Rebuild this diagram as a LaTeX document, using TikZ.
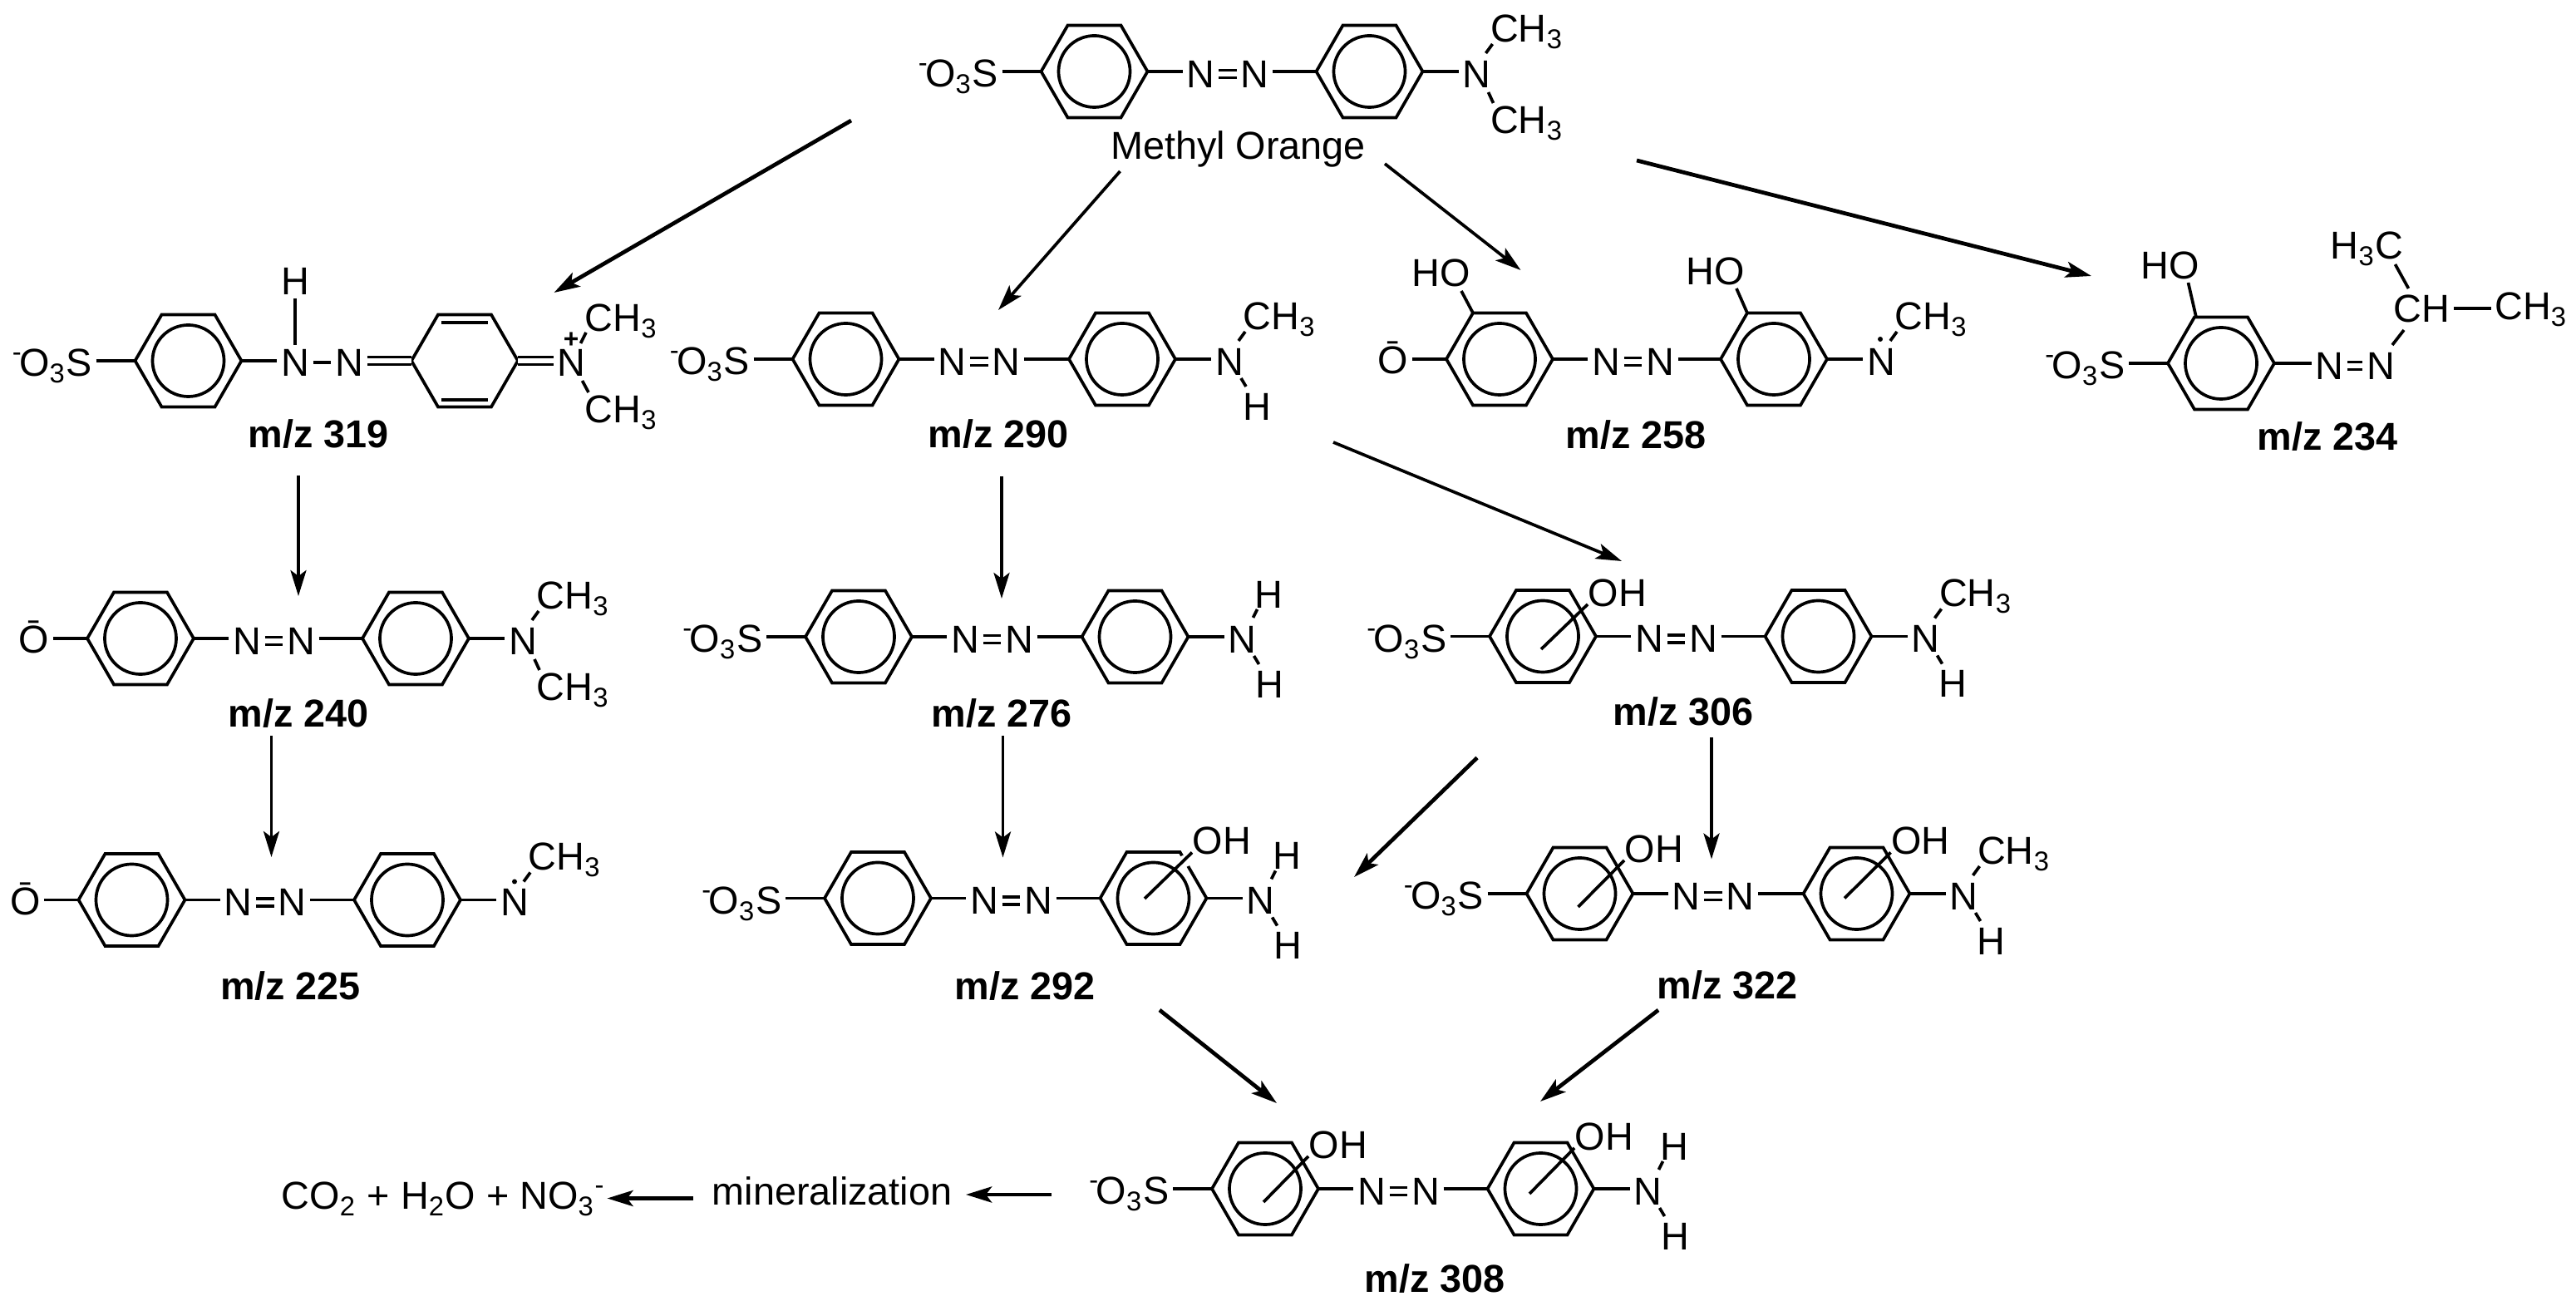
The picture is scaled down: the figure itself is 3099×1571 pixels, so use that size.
\documentclass[tikz,border=0pt]{standalone}
\usepackage{fontspec}
\setmainfont{Liberation Sans}
\usetikzlibrary{arrows.meta}
\newcommand{\chemfont}{\fontsize{13.3}{16}\selectfont}
\tikzset{
  bond/.style={line width=1.05pt,line join=miter},
  react/.style={line width=1.05pt,-{Stealth[length=0.31cm,width=0.19cm,inset=0.07cm]}},
  heavy/.style={line width=1.35pt},
  atom/.style={inner sep=0.04cm,font=\chemfont},
  mzlabel/.style={inner sep=0pt,anchor=base,font=\chemfont\bfseries},
  ringin/.style={circle,draw,line width=1.05pt,minimum size=0.86cm,inner sep=0pt},
  raddot/.style={circle,fill,inner sep=0pt,minimum size=0.06cm}
}
% bare hexagon
\newcommand{\hexa}[3]{
  \coordinate (#1) at (#2,#3);
  \coordinate (#1w) at (#2-64,#3);
  \coordinate (#1e) at (#2+64,#3);
  \draw[bond] (#1w) -- (#2-32,#3-55.5) -- (#2+32,#3-55.5) -- (#1e)
    -- (#2+32,#3+55.5) -- (#2-32,#3+55.5) -- cycle;
}
% benzene ring
\newcommand{\benz}[3]{
  \hexa{#1}{#2}{#3}
  \node[ringin] (#1c) at (#1) {};
}
% two rings joined by the azo group, with the amine N on the right
\newcommand{\azo}[4]{
  \benz{#1a}{#2}{#3}
  \benz{#1b}{#4}{#3}
  \node[atom] (#1n) at (#2+128,#3+3) {N};
  \node[atom] (#1m) at (#2+193,#3+3) {N};
  \node[atom] (#1r) at (#4+129,#3+3) {N};
  \draw[bond] (#1ae) -- (#1ae -| #1n.west);
  \draw[bond,double,double distance=0.055cm] (#1n) -- (#1m);
  \draw[bond] (#1m.east |- #1bw) -- (#1bw);
  \draw[bond] (#1be) -- (#1be -| #1r.west);
}
% groups on a ring
\newcommand{\sulfo}[1]{
  \node[atom,anchor=base east] (#1s) at ([shift={(-47,19)}]#1w) {\textsuperscript{-}\kern-1.2pt O\textsubscript{3}S};
  \draw[bond] (#1w -| #1s.east) -- (#1w);
}
\newcommand{\oxide}[1]{
  \node[atom,anchor=base] (#1o) at ([shift={(-64,18)}]#1w) {Ō};
  \draw[bond] (#1w -| #1o.east) -- (#1w);
}
% name, ring, start in the ring, x and y of the label
\newcommand{\hydroxy}[5]{
  \node[atom,anchor=west] (#1) at (#4-4,#5) {OH};
  \draw[bond] ([shift={(#3)}]#2) -- ([shift={(4,14)}]#1.west);
}
% groups on the amine N
\newcommand{\meup}[1]{
  \node[atom,anchor=base west] (#1cu) at ([shift={(12,-38.5)}]#1.center) {CH\textsubscript{3}};
  \draw[bond] ([shift={(11,-25)}]#1.center) -- ([shift={(7,2.5)}]#1cu.base west);
}
\newcommand{\medown}[1]{
  \node[atom,anchor=base west] (#1cd) at ([shift={(12,71.5)}]#1.center) {CH\textsubscript{3}};
  \draw[bond] ([shift={(14,22)}]#1.center) -- ([shift={(8,-36.5)}]#1cd.base west);
}
\newcommand{\hup}[1]{
  \node[atom] (#1hu) at ([shift={(32,-54)}]#1.center) {H};
  \draw[bond] ([shift={(13,-26)}]#1.center) -- ([shift={(-14,18)}]#1hu.center);
}
\newcommand{\hdown}[1]{
  \node[atom] (#1hd) at ([shift={(33,54)}]#1.center) {H};
  \draw[bond] ([shift={(14,20)}]#1.center) -- ([shift={(-13,-24)}]#1hd.center);
}
\begin{document}
\begin{tikzpicture}[x=0.01cm,y=-0.01cm]
  \useasboundingbox (0,0) rectangle (3099,1571);

  % Methyl orange
  \azo{mo}{1316.5}{86}{1647.5}
  \sulfo{moa}
  \meup{mor}
  \medown{mor}
  \node[atom,anchor=base] (moname) at (1489.5,192) {Methyl Orange};

  % m/z 319
  \benz{qa}{226.5}{434}
  \hexa{qb}{559}{434}
  \sulfo{qa}
  \node[atom] (qn) at (355,436) {N};
  \node[atom] (qm) at (420,436) {N};
  \node[atom] (qr) at (687.5,436) {N};
  \node[atom] (qh) at (355,338) {H};
  \node[inner sep=0pt,font=\fontsize{9}{9}\bfseries\selectfont] (qplus) at (687,409) {+};
  \node[atom,anchor=base west] (qcu) at (699,399) {CH\textsubscript{3}};
  \node[atom,anchor=base west] (qcd) at (699,509) {CH\textsubscript{3}};
  \draw[bond] (qae) -- (qae -| qn.west);
  \draw[bond] (qn) -- (qm);
  \draw[bond] (qh) -- (qn);
  \draw[bond,double,double distance=0.055cm] (qm.east |- qbw) -- (qbw);
  \draw[bond,double,double distance=0.055cm] (qbe) -- (qbe -| qr.west);
  \draw[bond] ([shift={(-28,-46)}]qb) -- ([shift={(28,-46)}]qb);
  \draw[bond] ([shift={(-28,47)}]qb) -- ([shift={(28,47)}]qb);
  \draw[bond] ([shift={(11,-23)}]qr.center) -- ([shift={(6,1)}]qcu.base west);
  \draw[bond] ([shift={(13,22)}]qr.center) -- ([shift={(9,-37)}]qcd.base west);
  \node[mzlabel] (l319) at (383,539) {m/z 319};

  % m/z 290
  \azo{fa}{1017.5}{432}{1350}
  \sulfo{faa}
  \meup{far}
  \hdown{far}
  \node[mzlabel] (l290) at (1201,539) {m/z 290};

  % m/z 258
  \azo{fb}{1804}{432}{2134}
  \oxide{fba}
  \meup{fbr}
  \node[raddot] (fbdot) at ([shift={(-1,-27)}]fbr.center) {};
  \node[atom] (fbho) at (1734,328) {HO};
  \node[atom] (fbhp) at (2064,326) {HO};
  \draw[bond] ([shift={(24,22)}]fbho.center) -- ([shift={(-32,-55.5)}]fba);
  \draw[bond] ([shift={(25,21)}]fbhp.center) -- ([shift={(-32,-55.5)}]fbb);
  \node[mzlabel] (l258) at (1968,540) {m/z 258};

  % m/z 234
  \benz{fc}{2672}{437}
  \sulfo{fc}
  \node[atom] (fcho) at (2610.5,319) {HO};
  \draw[bond] ([shift={(22,21)}]fcho.center) -- ([shift={(-30,-55.5)}]fc);
  \node[atom] (fcn) at (2802.5,440) {N};
  \node[atom] (fcm) at (2864,440) {N};
  \node[atom,anchor=west] (fcch) at (2875,371) {CH};
  \node[atom,anchor=base west] (fcme) at (2799,312) {H\textsubscript{3}C};
  \node[atom,anchor=base west] (fcmf) at (2996.5,385) {CH\textsubscript{3}};
  \draw[bond] (fce) -- (fce -| fcn.west);
  \draw[bond,double,double distance=0.055cm] (fcn) -- (fcm);
  \draw[bond] ([shift={(14,-25)}]fcm.center) -- ([shift={(17,26)}]fcch.west);
  \draw[bond] ([shift={(-32,-53)}]fcch.center) -- ([shift={(-16,-24)}]fcch.center);
  \draw[bond] (fcch.east) -- (fcmf.base west |- fcch.east);
  \node[mzlabel] (l234) at (2800,542) {m/z 234};

  % m/z 240
  \azo{sa}{169}{768}{500}
  \oxide{saa}
  \meup{sar}
  \medown{sar}
  \node[mzlabel] (l240) at (359,875) {m/z 240};

  % m/z 276
  \azo{sb}{1033}{766}{1365.5}
  \sulfo{sba}
  \hup{sbr}
  \hdown{sbr}
  \node[mzlabel] (l276) at (1205,875) {m/z 276};

  % m/z 306
  \azo{sc}{1856}{765.5}{2187.5}
  \sulfo{sca}
  \hydroxy{scoh}{sca}{-2,15.5}{1910}{713}
  \meup{scr}
  \hdown{scr}
  \node[mzlabel] (l306) at (2025,873) {m/z 306};

  % m/z 225
  \azo{ta}{158.5}{1082.5}{490}
  \oxide{taa}
  \meup{tar}
  \node[raddot] (tadot) at ([shift={(0,-25)}]tar.center) {};
  \node[mzlabel] (l225) at (349.5,1203) {m/z 225};

  % m/z 292
  \azo{tb}{1056}{1080.5}{1387.5}
  \sulfo{tba}
  \draw[white,line width=2pt] (1423,1029) -- (1429,1042);
  \hydroxy{tboh}{tbb}{-10.5,0.5}{1434}{1011.5}
  \hup{tbr}
  \hdown{tbr}
  \node[mzlabel] (l292) at (1233,1203) {m/z 292};

  % m/z 322
  \azo{tc}{1900.5}{1075}{2233.5}
  \sulfo{tca}
  \hydroxy{tcoh}{tca}{-2,16}{1954}{1021}
  \hydroxy{tcoi}{tcb}{-14.5,5.5}{2274.5}{1011.5}
  \meup{tcr}
  \hdown{tcr}
  \node[mzlabel] (l322) at (2078,1202) {m/z 322};

  % m/z 308
  \azo{fo}{1522}{1430}{1853.5}
  \sulfo{foa}
  \hydroxy{fooh}{foa}{-2,16}{1574}{1377}
  \hydroxy{fooi}{fob}{-13.5,6}{1894}{1367}
  \hup{for}
  \hdown{for}
  \node[mzlabel] (l308) at (1726,1555) {m/z 308};

  % Mineralization
  \node[atom,anchor=base] (mineral) at (1001,1450) {mineralization};
  \node[atom,anchor=base west] (gases) at (334,1455) {CO\textsubscript{2} + H\textsubscript{2}O + NO\textsubscript{3}\textsuperscript{-}};

  % Arrow ends
  \coordinate (a1s) at (1024,145);   \coordinate (a1e) at (666.5,352);
  \coordinate (a2s) at (1347.5,206); \coordinate (a2e) at (1201,373);
  \coordinate (a3s) at (1666,197);   \coordinate (a3e) at (1829.5,325);
  \coordinate (a4s) at (1969,193);   \coordinate (a4e) at (2516,332);
  \coordinate (a5s) at (359,572);    \coordinate (a5e) at (359,717);
  \coordinate (a6s) at (326.5,885);  \coordinate (a6e) at (326.5,1031);
  \coordinate (a7s) at (1205,573);   \coordinate (a7e) at (1205,720);
  \coordinate (a8s) at (1206.5,885); \coordinate (a8e) at (1206.5,1031.5);
  \coordinate (a9s) at (1604,532);   \coordinate (a9e) at (1951,675);
  \coordinate (a10s) at (1777,911.5);\coordinate (a10e) at (1629,1055);
  \coordinate (a11s) at (2059,887.5);\coordinate (a11e) at (2059,1033.5);
  \coordinate (a12s) at (1395,1215); \coordinate (a12e) at (1536,1327);
  \coordinate (a13s) at (1995,1215); \coordinate (a13e) at (1853,1325);
  \coordinate (a14s) at (1265,1437); \coordinate (a14e) at (1162,1437);
  \coordinate (a15s) at (834,1441.5);\coordinate (a15e) at (730.5,1441.5);

  % Reaction arrows
  \foreach \n in {2,3,5,6,7,8,9,11}
    \draw[react] (a\n s) -- (a\n e);
  \foreach \n in {1,4,10,12,13,14,15}
    \draw[react,heavy] (a\n s) -- (a\n e);
\end{tikzpicture}
\end{document}
